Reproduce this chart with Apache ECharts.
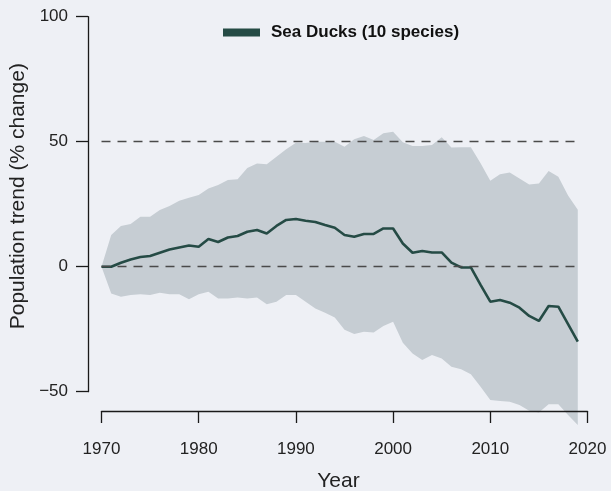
<!DOCTYPE html>
<html>
<head>
<meta charset="utf-8">
<script src="https://cdn.jsdelivr.net/npm/echarts@6/dist/echarts.min.js"></script>
<style>
html, body { margin: 0; padding: 0; background: #eef0f5; }
#chart { width: 611px; height: 491px; }
</style>
</head>
<body>
<div id="chart"></div>
<script>
// years 1970-2019
var years = ['1970','1971','1972','1973','1974','1975','1976','1977','1978','1979',
             '1980','1981','1982','1983','1984','1985','1986','1987','1988','1989',
             '1990','1991','1992','1993','1994','1995','1996','1997','1998','1999',
             '2000','2001','2002','2003','2004','2005','2006','2007','2008','2009',
             '2010','2011','2012','2013','2014','2015','2016','2017','2018','2019'];

// population trend, % change (median)
var trend = [0, 0, 1.6, 2.9, 3.9, 4.3, 5.6, 6.9, 7.7, 8.5,
             8.0, 11.1, 9.9, 11.7, 12.3, 14.0, 14.7, 13.3, 16.3, 18.7,
             19.1, 18.4, 17.9, 16.7, 15.6, 12.7, 12.0, 13.1, 13.1, 15.3,
             15.3, 9.3, 5.6, 6.3, 5.7, 5.7, 1.6, -0.3, -0.3, -7.3,
             -14.0, -13.3, -14.4, -16.4, -19.7, -21.7, -15.7, -16.0, -23.0, -30.0];

// credible interval
var upper = [0, 12.7, 16.3, 17.1, 20, 20, 22.7, 24.3, 26.4, 27.6,
             28.7, 31.3, 32.7, 34.7, 35, 39.5, 41.3, 41, 44, 47,
             49.6, 49.5, 50, 50, 50, 48, 51, 52.3, 50.7, 53.4,
             54, 49.8, 48.3, 48.3, 48.7, 51.8, 47.7, 47.8, 47.8, 41.4,
             34.4, 37, 37.7, 35.3, 32.9, 33.3, 38.3, 36, 28.5, 22.8];
var lower = [0, -10.7, -12, -11.3, -11, -11.3, -10.4, -11, -11, -13,
             -11, -10, -12.7, -12.7, -12.3, -12.7, -12.3, -15, -14, -11.3,
             -11.3, -14, -16.7, -18.4, -20.3, -25.2, -26.9, -26, -26.3, -23.7,
             -22, -30.4, -34.7, -37.3, -35.3, -36.7, -40, -41, -43, -48,
             -53.3, -53.7, -54, -55.3, -57.6, -58.3, -55, -55, -59.3, -63.3];

var xTicks = [1970, 1980, 1990, 2000, 2010, 2020];
var yTicks = [-50, 0, 50, 100];
var refLines = [50, 0];

var bandWidth = upper.map(function (u, i) { return +(u - lower[i]).toFixed(2); });

var font = 'Liberation Sans, Arial, sans-serif';
var axisColor = '#1a1a1a';

var myChart = echarts.init(document.getElementById('chart'));
var option = {
    animation: false,
    backgroundColor: '#eef0f5',
    textStyle: { fontFamily: font },
    legend: {
        data: ['Sea Ducks (10 species)'],
        left: 223,
        top: 24,
        padding: 0,
        icon: 'rect',
        itemWidth: 37,
        itemHeight: 8,
        textStyle: { fontFamily: font, fontSize: 17, fontWeight: 'bold', color: '#111', padding: [0, 0, 0, 6] }
    },
    grid: [
        // data area
        { left: 101.5, right: 23.5, top: 16.7, bottom: 49.3, outerBoundsMode: 'none' },
        // visible axes
        { left: 101.5, right: 23.5, top: 16.7, bottom: 99.3, outerBoundsMode: 'none' }
    ],
    xAxis: [{
        gridIndex: 0,
        type: 'category',
        boundaryGap: false,
        data: years.concat(['2020']),
        show: false
    }, {
        gridIndex: 1,
        type: 'value',
        min: xTicks[0],
        max: xTicks[xTicks.length - 1],
        interval: 10,
        offset: 19.3,
        z: 10,
        axisLine: { onZero: false, lineStyle: { color: axisColor, width: 1.3 } },
        axisTick: { length: 12, lineStyle: { color: axisColor, width: 1.3 } },
        axisLabel: {
            margin: 30, fontSize: 17, color: '#222', fontFamily: font,
            formatter: function (v) { return String(v); }
        },
        splitLine: { show: false },
        name: 'Year',
        nameLocation: 'middle',
        nameGap: 60,
        nameTextStyle: { fontSize: 21, color: '#222', fontFamily: font, padding: [0, 12, 0, 0] }
    }],
    yAxis: [{
        gridIndex: 0,
        type: 'value',
        min: -70,
        max: 100,
        show: false
    }, {
        gridIndex: 1,
        type: 'value',
        min: yTicks[0],
        max: yTicks[yTicks.length - 1],
        interval: 50,
        offset: 13.5,
        axisLine: { show: true, onZero: false, lineStyle: { color: axisColor, width: 1.3 } },
        axisTick: { show: true, length: 12, lineStyle: { color: axisColor, width: 1.3 } },
        axisLabel: {
            margin: 20, fontSize: 17, color: '#222', fontFamily: font,
            formatter: function (v) { return v < 0 ? '\u2212' + Math.abs(v) : String(v); }
        },
        splitLine: { show: false },
        name: 'Population trend (% change)',
        nameLocation: 'middle',
        nameGap: 55,
        nameTextStyle: { fontSize: 21, color: '#222', fontFamily: font, padding: [0, 0, 0, 16] }
    }],
    series: [{
        name: 'lower',
        type: 'line',
        xAxisIndex: 0,
        yAxisIndex: 0,
        data: lower,
        stack: 'band',
        stackStrategy: 'all',
        symbol: 'none',
        lineStyle: { opacity: 0 },
        z: 2,
        markLine: {
            silent: true,
            symbol: 'none',
            label: { show: false },
            lineStyle: { color: '#4a4a4a', type: [9, 7], width: 1.3 },
            data: refLines.map(function (v) {
                return [{ coord: ['1970', v] }, { coord: ['2019', v] }];
            })
        }
    }, {
        name: 'band',
        type: 'line',
        xAxisIndex: 0,
        yAxisIndex: 0,
        data: bandWidth,
        stack: 'band',
        stackStrategy: 'all',
        symbol: 'none',
        lineStyle: { opacity: 0 },
        areaStyle: { color: '#c6cdd3', opacity: 1 },
        z: 1
    }, {
        name: 'Sea Ducks (10 species)',
        type: 'line',
        xAxisIndex: 0,
        yAxisIndex: 0,
        data: trend,
        symbol: 'none',
        itemStyle: { color: '#254b45' },
        lineStyle: { color: '#254b45', width: 2.6 },
        z: 3
    }]
};
myChart.setOption(option);
</script>
</body>
</html>
